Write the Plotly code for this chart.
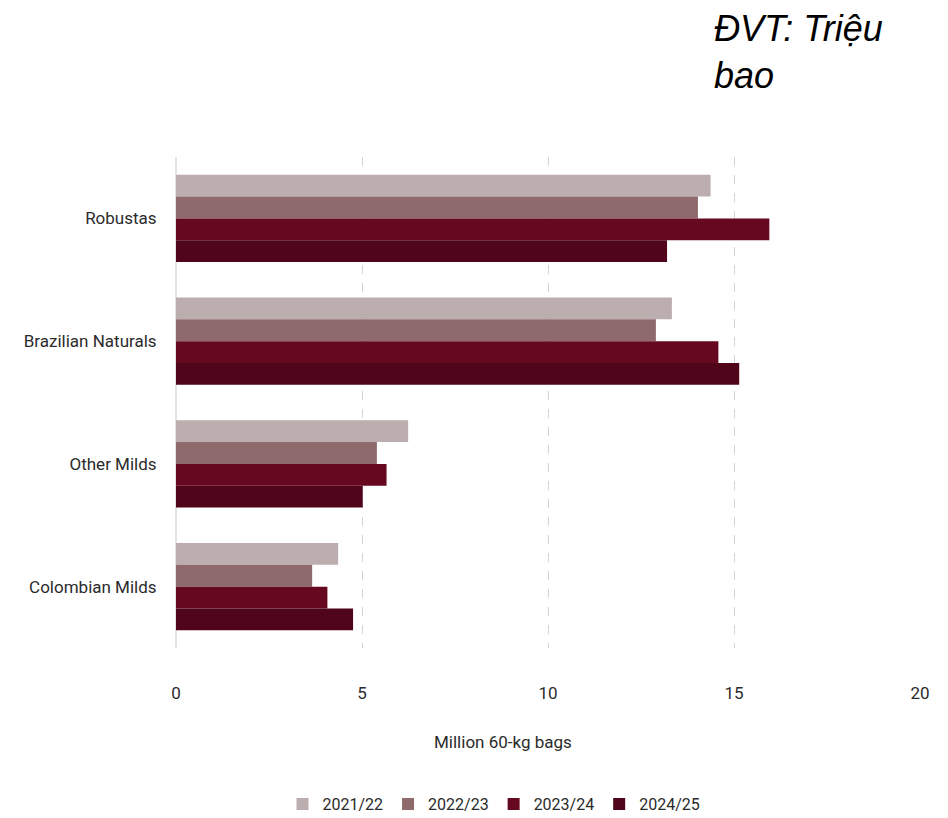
import plotly.graph_objects as go

categories = ["Robustas", "Brazilian Naturals", "Other Milds", "Colombian Milds"]
seasons = ["2021/22", "2022/23", "2023/24", "2024/25"]
values_2021_22 = [14.37, 13.33, 6.24, 4.36]
values_2022_23 = [14.03, 12.90, 5.40, 3.66]
values_2023_24 = [15.95, 14.58, 5.66, 4.07]
values_2024_25 = [13.20, 15.14, 5.02, 4.76]
series = [values_2021_22, values_2022_23, values_2023_24, values_2024_25]
colors = ["#bcaeae", "#8e6a6c", "#660820", "#51051a"]
x_ticks = [0, 5, 10, 15, 20]

FONT = "Roboto, sans-serif"
FS = 17

# the page draws the figure 8px in from the top-left corner
OFF = 8
W, H = 948 - OFF, 818 - OFF
L, R = 176 - OFF, 28
T = 156.5 - OFF
B = H - (648.5 - OFF)
pw = W - L - R
ph = H - T - B

def px_x(x):
    return (x - OFF - L) / pw

def px_y(y):
    return (H - B - (y - OFF)) / ph

fig = go.Figure()
for name, vals, col in zip(seasons, series, colors):
    fig.add_trace(go.Bar(
        y=categories, x=vals, name=name, orientation="h",
        marker=dict(color=col, line=dict(width=0)),
    ))

fig.update_layout(
    width=W, height=H,
    margin=dict(l=L, r=R, t=T, b=B, autoexpand=False),
    paper_bgcolor="white", plot_bgcolor="white",
    barmode="group", bargap=0.29, bargroupgap=0,
    font=dict(family=FONT, size=FS, color="#2b2b2b"),
    showlegend=True,
    legend=dict(
        orientation="h", x=px_x(494), xanchor="center",
        y=px_y(805), yanchor="middle",
        font=dict(family=FONT, size=16, color="#2b2b2b"),
        itemwidth=30, tracegroupgap=0,
    ),
    xaxis=dict(
        range=[0, 20], tickvals=x_ticks, automargin=False,
        showgrid=True, gridcolor="#d4d4d4", griddash="dash", gridwidth=1,
        zeroline=True, zerolinecolor="#e4e4e4", zerolinewidth=2,
        ticks="outside", ticklen=30, tickcolor="rgba(0,0,0,0)",
        showline=False, tickfont=dict(family=FONT, size=FS),
    ),
    yaxis=dict(
        autorange="reversed", automargin=False,
        ticks="outside", ticklen=15, tickcolor="rgba(0,0,0,0)",
        showgrid=False, showline=False,
        tickfont=dict(family=FONT, size=FS),
    ),
    annotations=[
        dict(text="Million 60-kg bags", xref="paper", yref="paper",
             x=px_x(503), y=px_y(743), xanchor="center", yanchor="middle",
             showarrow=False, font=dict(family=FONT, size=FS, color="#2b2b2b")),
        dict(text="<i>ĐVT: Triệu<br>bao</i>", xref="paper", yref="paper",
             x=px_x(712), y=px_y(5), xanchor="left", yanchor="top", align="left",
             showarrow=False,
             font=dict(family="Liberation Sans, Arial, sans-serif", size=36, color="#000000")),
    ],
)

fig.write_html("out.html")
